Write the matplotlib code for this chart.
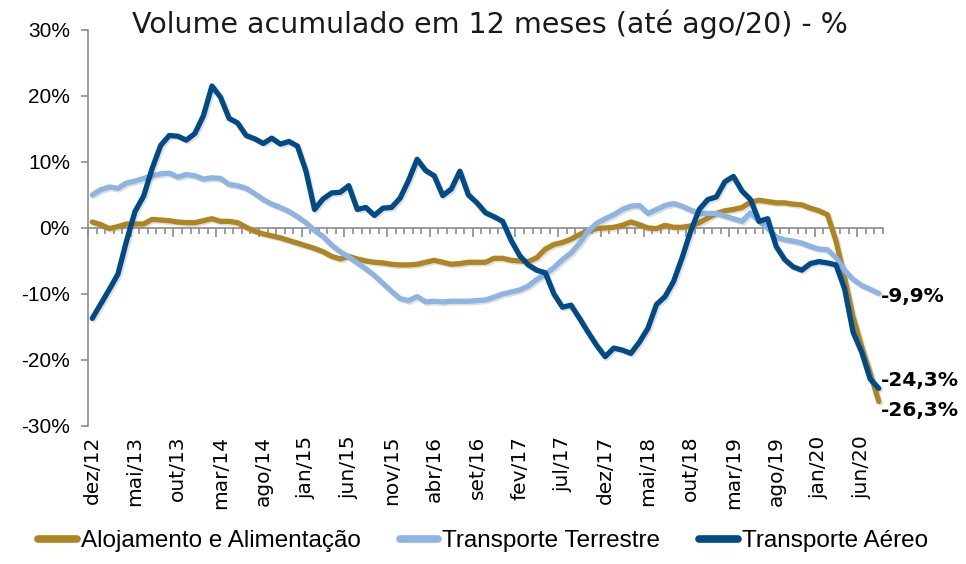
import numpy as np
import matplotlib
matplotlib.use("Agg")
import matplotlib.pyplot as plt
import matplotlib.patheffects as pe
from matplotlib.ticker import FuncFormatter

# ---------------- data ----------------
tick_labels = ['dez/12', 'mai/13', 'out/13', 'mar/14', 'ago/14', 'jan/15', 'jun/15',
               'nov/15', 'abr/16', 'set/16', 'fev/17', 'jul/17', 'dez/17', 'mai/18',
               'out/18', 'mar/19', 'ago/19', 'jan/20', 'jun/20']

alojamento = [0.9, 0.5, -0.1, 0.2, 0.6, 0.6, 0.6, 1.3, 1.2, 1.1,
              0.9, 0.8, 0.8, 1.1, 1.4, 1.0, 1.0, 0.8, 0.1, -0.5,
              -0.9, -1.2, -1.5, -1.9, -2.3, -2.7, -3.1, -3.6, -4.3, -4.7,
              -4.3, -4.7, -5.0, -5.2, -5.3, -5.5, -5.6, -5.6, -5.5, -5.2,
              -4.9, -5.2, -5.5, -5.4, -5.2, -5.2, -5.2, -4.6, -4.6, -4.9,
              -5.0, -5.1, -4.5, -3.2, -2.5, -2.2, -1.7, -1.0, -0.4, -0.1,
              0.0, 0.1, 0.4, 0.9, 0.5, 0.0, -0.1, 0.4, 0.1, 0.1,
              0.3, 0.8, 1.5, 2.2, 2.6, 2.8, 3.1, 3.9, 4.2, 4.0,
              3.8, 3.8, 3.6, 3.5, 3.0, 2.6, 2.0, -2.0, -7.5, -13.5,
              -18.0, -22.0, -26.3]

terrestre = [5.0, 5.8, 6.2, 6.0, 6.8, 7.1, 7.5, 7.9, 8.2, 8.3,
             7.7, 8.1, 7.9, 7.4, 7.6, 7.5, 6.6, 6.4, 6.0, 5.2,
             4.3, 3.6, 3.1, 2.5, 1.7, 0.8, -0.4, -1.3, -2.6, -3.6,
             -4.4, -5.3, -6.2, -7.2, -8.4, -9.6, -10.7, -11.0, -10.4, -11.2,
             -11.1, -11.2, -11.1, -11.1, -11.1, -11.0, -10.9, -10.5, -10.0, -9.7,
             -9.4, -8.8, -7.8, -7.0, -6.0, -4.8, -3.8, -2.3, -0.5, 0.7,
             1.4, 2.0, 2.8, 3.3, 3.4, 2.2, 2.8, 3.4, 3.7, 3.3,
             2.7, 2.2, 2.2, 2.2, 1.8, 1.4, 1.0, 2.3, 1.0, 0.0,
             -1.4, -1.8, -2.0, -2.3, -2.8, -3.2, -3.3, -4.5, -6.4, -7.8,
             -8.7, -9.3, -9.9]

aereo = [-13.7, -11.5, -9.3, -7.0, -2.0, 2.5, 4.8, 9.0, 12.5, 14.0,
         13.9, 13.3, 14.3, 17.0, 21.5, 19.8, 16.6, 15.9, 14.0, 13.5,
         12.8, 13.6, 12.7, 13.1, 12.4, 8.6, 2.8, 4.4, 5.3, 5.4,
         6.4, 2.8, 3.1, 1.9, 3.0, 3.1, 4.5, 7.2, 10.4, 8.7,
         7.9, 4.9, 5.9, 8.6, 5.0, 3.8, 2.3, 1.7, 1.0, -1.9,
         -4.2, -5.6, -6.4, -6.8, -10.0, -12.0, -11.7, -13.7, -15.8, -17.8,
         -19.5, -18.2, -18.5, -19.0, -17.3, -15.2, -11.6, -10.4, -8.1, -4.5,
         -0.5, 2.8, 4.3, 4.7, 7.0, 7.8, 5.6, 4.3, 1.0, 1.4,
         -2.8, -4.8, -5.9, -6.4, -5.4, -5.1, -5.3, -5.6, -9.2, -15.8,
         -18.8, -22.9, -24.3]

series_names = ['Alojamento e Alimentação', 'Transporte Terrestre', 'Transporte Aéreo']
end_labels = ['-26,3%', '-9,9%', '-24,3%']
title = 'Volume acumulado em 12 meses (até ago/20) - %'

# ---------------- style ----------------
colors = ['#AE8520', '#8DB4E2', '#004A87']
label_offsets_px = [-9, -3, 8]
axis_gray = '#8C8C8C'

fig = plt.figure(figsize=(9.66, 5.64), dpi=100)
ax = fig.add_axes([0.0911, 0.2447, 0.8230, 0.7023])

x = np.arange(len(aereo))
shadow = [pe.SimpleLineShadow(offset=(1.2, -1.2), shadow_color='gray', alpha=0.25), pe.Normal()]
for vals, c, name in zip([alojamento, terrestre, aereo], colors, series_names):
    ax.plot(x, vals, color=c, lw=3.8, solid_joinstyle='round', solid_capstyle='round',
            label=name, path_effects=shadow, zorder=3)

ax.set_xlim(-0.5, len(aereo) - 0.5)
ax.set_ylim(-30, 30)

# spines
for s in ['top', 'right']:
    ax.spines[s].set_visible(False)
ax.spines['left'].set_color(axis_gray)
ax.spines['left'].set_linewidth(1.2)
ax.spines['bottom'].set_position(('data', 0))
ax.spines['bottom'].set_color(axis_gray)
ax.spines['bottom'].set_linewidth(1.2)

# y axis
ax.set_yticks(np.arange(-30, 31, 10))
ax.yaxis.set_major_formatter(FuncFormatter(lambda v, p: f'{int(v)}%'))
ax.tick_params(axis='y', length=5, width=1.2, color=axis_gray, pad=8,
               labelsize=15, labelcolor='black')
for t in ax.get_yticklabels():
    t.set_family(['Liberation Sans', 'DejaVu Sans'])

# x axis ticks on zero line
ax.set_xticks(np.arange(-0.5, len(aereo), 5))
ax.set_xticks(np.arange(-0.5, len(aereo), 1), minor=True)
ax.tick_params(axis='x', which='major', length=6.5, width=1.2, color=axis_gray,
               direction='out', labelbottom=False)
ax.tick_params(axis='x', which='minor', length=4, width=1.2, color=axis_gray,
               direction='out')

# x labels at bottom
sec = ax.secondary_xaxis(0)
sec.set_xticks(np.arange(0, len(aereo), 5)[:len(tick_labels)], tick_labels)
sec.tick_params(length=0, pad=7, labelsize=14.5, labelrotation=90)
for s in sec.spines.values():
    s.set_visible(False)
for t in sec.get_xticklabels():
    t.set_family(['DejaVu Sans'])
    t.set_va('top')

# end labels
for vals, lab, off in zip([alojamento, terrestre, aereo], end_labels, label_offsets_px):
    ax.annotate(lab, xy=(len(vals) - 1, vals[-1]), xytext=(2, off),
                textcoords='offset pixels', ha='left', va='center',
                fontsize=14.5, fontweight='bold', family=['DejaVu Sans'],
                annotation_clip=False)

# title
fig.text(0.507, 0.957, title, ha='center', va='center', fontsize=20.5,
         family=['DejaVu Sans'], color='#1a1a1a')

# legend
leg = fig.legend(loc='lower center', bbox_to_anchor=(0.5, -0.005), ncol=3,
                 frameon=False, handlelength=1.6, handletextpad=0.15,
                 columnspacing=1.6, borderaxespad=0.2,
                 prop={'family': ['Liberation Sans Narrow', 'Liberation Sans', 'DejaVu Sans'], 'size': 17.5})
for h in leg.legend_handles:
    h.set_linewidth(5.5)
    h.set_path_effects([])
    h.set_solid_capstyle('round')

fig.savefig('out.png', dpi=100)
